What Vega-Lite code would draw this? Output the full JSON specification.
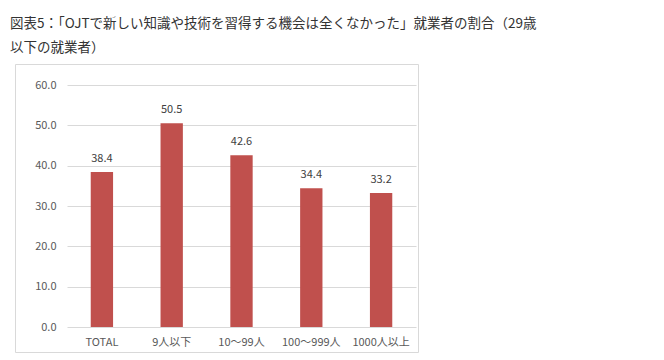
{
  "$schema": "https://vega.github.io/schema/vega-lite/v6.json",
  "width": 403,
  "height": 288,
  "autosize": "none",
  "padding": {"left": 15, "top": 64, "right": 246, "bottom": 8},
  "background": "white",
  "title": {
    "text": ["図表5：「OJTで新しい知識や技術を習得する機会は全くなかった」就業者の割合（29歳", "以下の就業者）"],
    "anchor": "start",
    "frame": "group",
    "dx": -5,
    "offset": -4,
    "baseline": "bottom",
    "lineHeight": 24,
    "font": "Noto Sans CJK JP",
    "fontSize": 13.5,
    "fontWeight": "normal",
    "color": "#333333"
  },
  "data": {
    "values": [
      {"category": "TOTAL", "value": 38.4},
      {"category": "9人以下", "value": 50.5},
      {"category": "10～99人", "value": 42.6},
      {"category": "100～999人", "value": 34.4},
      {"category": "1000人以上", "value": 33.2}
    ]
  },
  "encoding": {
    "x": {
      "field": "category",
      "type": "nominal",
      "sort": null,
      "scale": {"range": [52, 401], "paddingInner": 0.68, "paddingOuter": 0.34},
      "axis": {
        "title": null,
        "labelAngle": 0,
        "domain": false,
        "ticks": false,
        "grid": false,
        "offset": -16,
        "labelPadding": 0,
        "labelFont": "Noto Sans CJK JP",
        "labelFontSize": 11,
        "labelColor": "#595959"
      }
    },
    "y": {
      "field": "value",
      "type": "quantitative",
      "scale": {"domain": [0, 60], "range": [263, 21], "nice": false, "zero": false},
      "axis": {
        "title": null,
        "values": [0, 10, 20, 30, 40, 50, 60],
        "format": ".1f",
        "grid": true,
        "gridColor": "#d9d9d9",
        "domain": false,
        "ticks": false,
        "offset": -45,
        "labelPadding": 4,
        "labelFont": "Noto Sans CJK JP",
        "labelFontSize": 11,
        "labelColor": "#595959"
      }
    }
  },
  "layer": [
    {"mark": {"type": "bar", "color": "#C0504D"}},
    {
      "mark": {"type": "text", "baseline": "bottom", "dy": -8, "font": "Noto Sans CJK JP", "fontSize": 11, "color": "#404040"},
      "encoding": {"text": {"field": "value", "type": "quantitative", "format": ".1f"}}
    }
  ],
  "config": {
    "view": {"stroke": "#d9d9d9", "strokeWidth": 1}
  }
}
